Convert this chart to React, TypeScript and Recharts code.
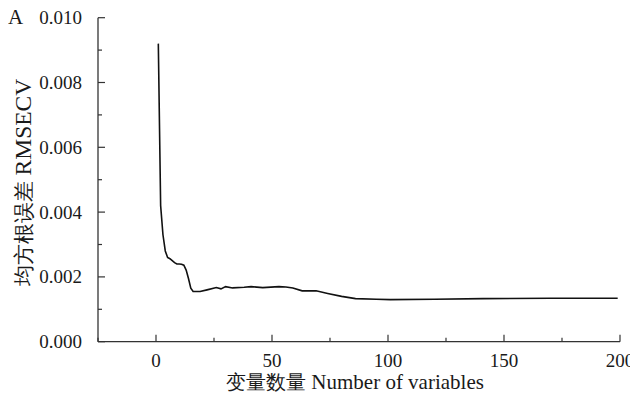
import React from 'react';
import { LineChart, Line, XAxis, YAxis } from 'recharts';

// Number of selected variables and the cross-validated RMSE at each step
const nVars = [
  1, 2, 3, 4, 5, 6, 7, 8, 9, 10, 11, 12, 13, 14, 15, 16, 19, 22, 26, 28, 30, 33, 38, 41, 46,
  53, 56, 59, 63, 69, 74, 80, 86, 95, 101, 120, 141, 170, 199,
];
const rmsecv = [
  0.0092, 0.0042, 0.0033, 0.0028, 0.0026, 0.00256, 0.0025, 0.00244, 0.0024, 0.0024, 0.00239,
  0.00236, 0.00221, 0.00195, 0.00165, 0.00155, 0.00155, 0.0016, 0.00167, 0.00163, 0.0017,
  0.00166, 0.00168, 0.0017, 0.00167, 0.0017, 0.00169, 0.00166, 0.00157, 0.00157, 0.00149,
  0.0014, 0.00133, 0.00131, 0.0013, 0.00131, 0.00133, 0.00134, 0.00134,
];

const xTicks = [-25, 0, 25, 50, 75, 100, 125, 150, 175, 200];
const yTicks = [0, 0.001, 0.002, 0.003, 0.004, 0.005, 0.006, 0.007, 0.008, 0.009, 0.01];
const xTitleCn = '变量数量';
const xTitleEn = 'Number of variables';
const yTitleCn = '均方根误差';
const yTitleEn = 'RMSECV';
const panelTag = 'A';

const data = nVars.map((n, i) => ({ n, rmsecv: rmsecv[i] }));

const FONT = 'Liberation Serif, Times New Roman, Times, serif';
const AXIS = '#333';
const TEXT = '#1a1a1a';

function XTick(props: any) {
  const { x, y, payload } = props;
  const v = payload.value;
  const major = v % 50 === 0;
  return (
    <g>
      <line x1={x} y1={y} x2={x} y2={y - (major ? 7 : 4)} stroke={AXIS} strokeWidth={1.2} />
      {major && (
        <text x={x} y={y + 25} textAnchor="middle" fontSize={19} fontFamily={FONT} fill={TEXT}>
          {v}
        </text>
      )}
    </g>
  );
}

function YTick(props: any) {
  const { x, y, payload } = props;
  const v = payload.value;
  const major = Math.round(v * 1000) % 2 === 0;
  return (
    <g>
      <line x1={x} y1={y} x2={x + (major ? 7 : 4)} y2={y} stroke={AXIS} strokeWidth={1.2} />
      {major && (
        <text x={x - 16} y={y + 6.5} textAnchor="end" fontSize={19} fontFamily={FONT} fill={TEXT}>
          {v.toFixed(3)}
        </text>
      )}
    </g>
  );
}

function XTitle(props: any) {
  const vb = props.viewBox || { x: 98, y: 341.7, width: 522 };
  return (
    <text
      x={vb.x + vb.width / 2 - 4}
      y={vb.y + 47.6}
      textAnchor="middle"
      fontSize={21}
      fontFamily={FONT}
      fill={TEXT}
    >
      <tspan fontSize={19.5}>{xTitleCn}</tspan>
      <tspan> {xTitleEn}</tspan>
    </text>
  );
}

function YTitle() {
  const cx = 31;
  const cy = 182.5;
  return (
    <g>
      <text
        x={cx}
        y={cy}
        transform={`rotate(-90, ${cx}, ${cy})`}
        textAnchor="middle"
        fontSize={23.5}
        fontFamily={FONT}
        fill={TEXT}
      >
        <tspan fontSize={20.5}>{yTitleCn}</tspan>
        <tspan> {yTitleEn}</tspan>
      </text>
      <text x={8} y={23.5} fontSize={21} fontFamily={FONT} fill={TEXT}>
        {panelTag}
      </text>
    </g>
  );
}

export default function App() {
  return (
    <div style={{ marginLeft: -8, marginTop: -8 }}>
      <LineChart
        width={638}
        height={397}
        data={data}
        margin={{ top: 17.7, right: 18, bottom: 0, left: 0 }}
      >
        <XAxis
          type="number"
          dataKey="n"
          domain={[-25, 200]}
          ticks={xTicks}
          interval={0}
          tickSize={0}
          tickMargin={0}
          tickLine={false}
          tick={<XTick />}
          axisLine={{ stroke: AXIS, strokeWidth: 1.3 }}
          height={55.3}
          allowDataOverflow
          label={(p: any) => <XTitle {...p} />}
        />
        <YAxis
          type="number"
          domain={[0, 0.01]}
          ticks={yTicks}
          interval={0}
          tickSize={0}
          tickMargin={0}
          tickLine={false}
          tick={<YTick />}
          axisLine={{ stroke: AXIS, strokeWidth: 1.3 }}
          width={98}
          allowDataOverflow
          label={() => <YTitle />}
        />
        <Line
          type="linear"
          dataKey="rmsecv"
          stroke="#111"
          strokeWidth={1.6}
          dot={false}
          isAnimationActive={false}
        />
      </LineChart>
    </div>
  );
}
